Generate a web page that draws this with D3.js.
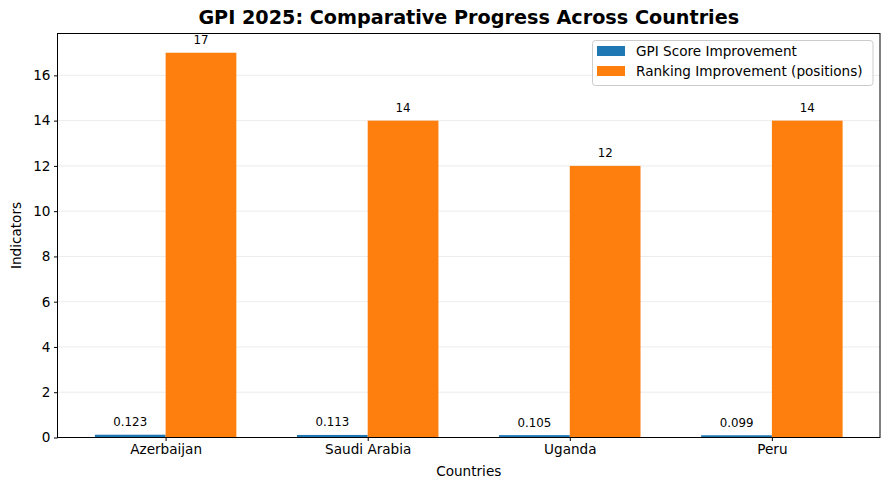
<!DOCTYPE html>
<html><head><meta charset="utf-8">
<script src="https://cdn.jsdelivr.net/npm/d3@7"></script>
<style>body{margin:0;background:#fff}svg{display:block;font-family:"DejaVu Sans",sans-serif}</style>
</head><body>
<svg id="c" width="889" height="490"></svg>
<script>
const countries = ["Azerbaijan", "Saudi Arabia", "Uganda", "Peru"];
const gpiScore = [0.123, 0.113, 0.105, 0.099];
const ranking = [17, 14, 12, 14];
const gpiLabels = ["0.123", "0.113", "0.105", "0.099"];
const rankLabels = ["17", "14", "12", "14"];
const yTicks = [0, 2, 4, 6, 8, 10, 12, 14, 16];
const seriesNames = ["GPI Score Improvement", "Ranking Improvement (positions)"];
const colors = ["#1f77b4", "#ff7f0e"];

const svg = d3.select("#c");
const L = 57.5, R = 880, T = 33.5, B = 437.5;
const bw = 0.35;
const x = d3.scaleLinear().domain([-0.535, 3.535]).range([L, R]);
const y = d3.scaleLinear().domain([0, 17.85]).range([B, T]);

// grid
svg.append("g").selectAll("line").data(yTicks).join("line")
  .attr("x1", L).attr("x2", R).attr("y1", d => y(d)).attr("y2", d => y(d))
  .attr("stroke", "#b0b0b0").attr("stroke-opacity", 0.3).attr("stroke-width", 0.8);

// bars
const idx = d3.range(countries.length);
svg.append("g").selectAll("rect").data(idx).join("rect")
  .attr("x", i => x(i - bw)).attr("width", i => x(i) - x(i - bw))
  .attr("y", i => y(gpiScore[i])).attr("height", i => y(0) - y(gpiScore[i]))
  .attr("fill", colors[0]);
svg.append("g").selectAll("rect").data(idx).join("rect")
  .attr("x", i => x(i)).attr("width", i => x(i + bw) - x(i))
  .attr("y", i => y(ranking[i])).attr("height", i => y(0) - y(ranking[i]))
  .attr("fill", colors[1]);

// value labels
svg.append("g").selectAll("text").data(idx).join("text")
  .attr("x", i => x(i - bw / 2)).attr("y", i => y(gpiScore[i] + 0.38))
  .attr("text-anchor", "middle").attr("font-size", 11.8).attr("fill", "#000")
  .text(i => gpiLabels[i]);
svg.append("g").selectAll("text").data(idx).join("text")
  .attr("x", i => x(i + bw / 2)).attr("y", i => y(ranking[i] + 0.38))
  .attr("text-anchor", "middle").attr("font-size", 11.8).attr("fill", "#000")
  .text(i => rankLabels[i]);

// axes
const xAxis = d3.axisBottom(x).tickValues(idx).tickFormat(i => countries[i]).tickSize(3.5).tickPadding(3.5);
const gx = svg.append("g").attr("transform", `translate(0,${B})`).call(xAxis);
gx.select(".domain").remove();
gx.selectAll("text").attr("font-size", 13.6).attr("fill", "#000").attr("font-family", "DejaVu Sans");
gx.selectAll("line").attr("stroke", "#000");

const yAxis = d3.axisLeft(y).tickValues(yTicks).tickSize(3.5).tickPadding(3.5);
const gy = svg.append("g").attr("transform", `translate(${L},0)`).call(yAxis);
gy.select(".domain").remove();
gy.selectAll("text").attr("font-size", 13.6).attr("fill", "#000").attr("font-family", "DejaVu Sans");
gy.selectAll("line").attr("stroke", "#000");

// frame
svg.append("rect").attr("x", L).attr("y", T).attr("width", R - L).attr("height", B - T)
  .attr("fill", "none").attr("stroke", "#000").attr("stroke-width", 1);

// titles
svg.append("text").attr("x", (L + R) / 2).attr("y", 24).attr("text-anchor", "middle")
  .attr("font-size", 19.2).attr("font-weight", "bold").text("GPI 2025: Comparative Progress Across Countries");
svg.append("text").attr("x", (L + R) / 2).attr("y", 476).attr("text-anchor", "middle")
  .attr("font-size", 13.6).text("Countries");
svg.append("text").attr("transform", `translate(21,${(T + B) / 2}) rotate(-90)`).attr("text-anchor", "middle")
  .attr("font-size", 13.6).text("Indicators");

// legend
const lg = svg.append("g");
lg.append("rect").attr("x", 592.5).attr("y", 40.5).attr("width", 280.5).attr("height", 45)
  .attr("rx", 3).attr("fill", "#fff").attr("fill-opacity", 0.8).attr("stroke", "#ccc").attr("stroke-width", 1);
seriesNames.forEach((s, k) => {
  lg.append("rect").attr("x", 597).attr("y", 46 + k * 20).attr("width", 28).attr("height", 10).attr("fill", colors[k]);
  lg.append("text").attr("x", 636).attr("y", 56 + k * 20).attr("font-size", 13.6).text(s);
});
</script>
</body></html>
